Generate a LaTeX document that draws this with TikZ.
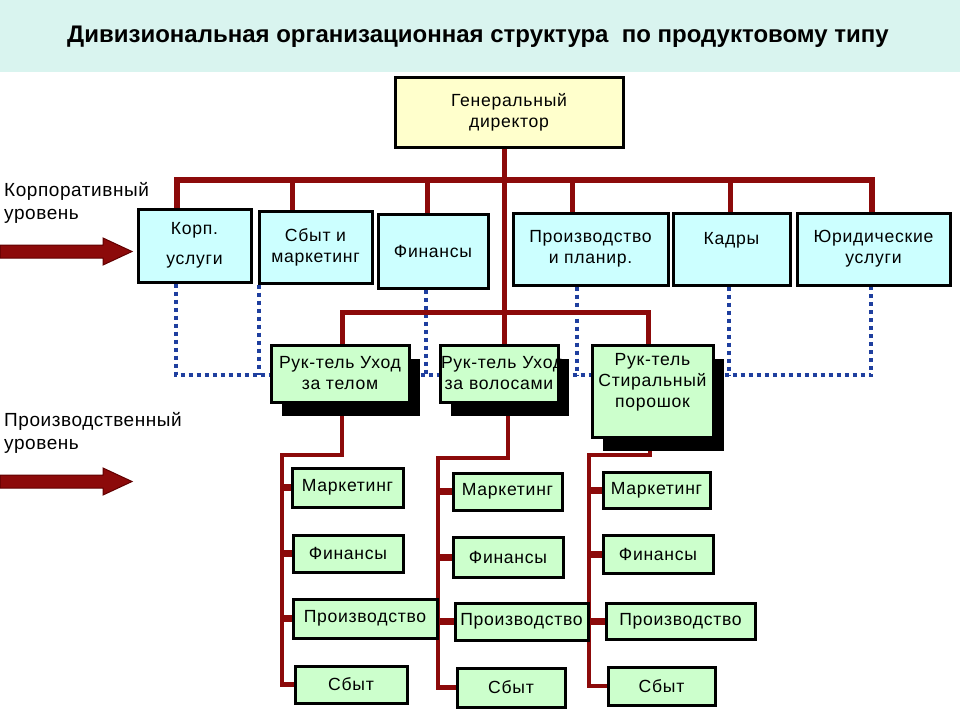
\documentclass[tikz,border=0pt]{standalone}
\usepackage{fontspec}
\setmainfont{Liberation Sans}
\newfontfamily\boxfontfam[LetterSpace=4]{Liberation Sans}
\newfontfamily\lblfontfam[LetterSpace=3]{Liberation Sans}
\newcommand\myboxfont{\boxfontfam\fontsize{17.6}{21}\selectfont}
\newcommand\mylblfont{\lblfontfam\fontsize{19}{23}\selectfont}
\usetikzlibrary{shadows,backgrounds}
\definecolor{bandc}{HTML}{D9F4EF}
\definecolor{cyanfill}{HTML}{CCFFFF}
\definecolor{greenfill}{HTML}{CCFFCC}
\definecolor{yellowfill}{HTML}{FFFFCC}
\definecolor{redl}{HTML}{8C0A0A}
\definecolor{redd}{HTML}{600000}
\definecolor{dblue}{HTML}{1F3F9F}
\begin{document}
\begin{tikzpicture}[x=1pt,y=-1pt,
  box/.style={draw=black,line width=3pt,align=center,inner sep=1pt,font=\myboxfont,line join=miter},
  cbox/.style={box,fill=cyanfill},
  gbox/.style={box,fill=greenfill},
  ybox/.style={box,fill=yellowfill},
  mbox/.style={gbox,drop shadow={shadow xshift=11pt,shadow yshift=-14pt,fill=black,opacity=1}},
  rline/.style={draw=redl,line width=5pt,line join=miter},
  spine/.style={draw=redl,line width=4.5pt,line join=miter},
  stub/.style={draw=redl,line width=7pt},
  dots/.style={draw=dblue,line width=4pt,dash pattern=on 4pt off 4pt},
  lvl/.style={font=\mylblfont,align=left,inner sep=0pt,anchor=north west},
  bigarrow/.style={fill=redl,draw=redd,line width=1pt}]
\useasboundingbox (0,0) rectangle (960,720);
\fill[bandc] (0,0) rectangle (960,72);
\node[font=\bfseries\fontsize{24}{28}\selectfont] (title) at (478,37)
  {Дивизиональная организационная структура\ \ по продуктовому типу};

% top
\node[ybox,minimum width=228pt,minimum height=70pt] (dir) at (509,112) {Генеральный\\директор};

% corporate level
\node[cbox,minimum width=113pt,minimum height=73pt] (korp) at (194.5,245.5) {Корп.\\[9pt]услуги};
\node[cbox,minimum width=113pt,minimum height=72pt] (sbyt) at (315.5,247) {Сбыт и\\маркетинг};
\node[cbox,minimum width=110pt,minimum height=74pt] (fin) at (433,251) {Финансы};
\node[cbox,minimum width=155pt,minimum height=72pt] (proiz) at (590.5,249) {Производство\\и планир.};
\node[cbox,minimum width=117pt,minimum height=72pt] (kadry) at (731.5,249) {Кадры\\~};
\node[cbox,minimum width=153pt,minimum height=72pt] (yur) at (873.5,249) {Юридические\\услуги};

% managers
\node[mbox,minimum width=138pt,minimum height=57pt] (m1) at (340,373.5) {Рук-тель Уход\\за телом};
\node[mbox,text width=116pt,minimum height=57pt] (m2) at (499,373.5) {\mbox{Рук-тель Уход}\\\mbox{за волосами}};
\node[mbox,minimum width=121pt,minimum height=92pt] (m3) at (652.5,391) {Рук-тель\\Стиральный\\порошок\\~};

% column 1
\node[gbox,minimum width=111pt,minimum height=39pt] (a1) at (347.5,487.5) {Маркетинг};
\node[gbox,minimum width=110pt,minimum height=37pt] (a2) at (348,553.5) {Финансы};
\node[gbox,minimum width=144pt,minimum height=39pt] (a3) at (365,618.5) {Производство};
\node[gbox,minimum width=112pt,minimum height=37pt] (a4) at (351,684.5) {Сбыт};
% column 2
\node[gbox,minimum width=109pt,minimum height=37pt] (b1) at (507.5,491.5) {Маркетинг};
\node[gbox,minimum width=110pt,minimum height=40pt] (b2) at (508,557) {Финансы};
\node[gbox,minimum width=133pt,minimum height=37pt] (b3) at (521.5,621.5) {Производство};
\node[gbox,minimum width=108pt,minimum height=39pt] (b4) at (511,687.5) {Сбыт};
% column 3
\node[gbox,minimum width=107pt,minimum height=36pt] (c1) at (656.5,490) {Маркетинг};
\node[gbox,minimum width=110pt,minimum height=38pt] (c2) at (658,554) {Финансы};
\node[gbox,minimum width=149pt,minimum height=36pt] (c3) at (680.5,621) {Производство};
\node[gbox,minimum width=107pt,minimum height=38pt] (c4) at (661.5,686) {Сбыт};

% level labels
\node[lvl] (lvl1) at (4,182) {Корпоративный\\уровень};
\node[lvl] (lvl2) at (4,412) {Производственный\\уровень};
\fill[bigarrow] (0,245) -- (103,245) -- (103,238) -- (132,251.5) -- (103,265) -- (103,258) -- (0,258) -- cycle;
\fill[bigarrow] (0,475) -- (103,475) -- (103,468) -- (132,481.5) -- (103,495) -- (103,488) -- (0,488) -- cycle;

% connectors
\coordinate (k1) at (177,180);
\coordinate (k2) at (292,180);
\coordinate (k3) at (427,180);
\coordinate (k4) at (572,180);
\coordinate (k5) at (730,180);
\coordinate (k6) at (872,180);
\coordinate (dv) at (504,180);
\coordinate (p1) at (342,312);
\coordinate (p3) at (648,312);
\coordinate (j1) at (282,455);
\coordinate (s1) at (342,455);
\coordinate (j2) at (438,458);
\coordinate (s2) at (508,458);
\coordinate (j3) at (589,455);
\coordinate (s3) at (650,455);
\coordinate (d1) at (176,375);
\coordinate (d2) at (259,375);
\coordinate (d3) at (426,375);
\coordinate (d4) at (577,375);
\coordinate (d5) at (729,375);
\coordinate (d6) at (871,375);

\begin{pgfonlayer}{background}
% dotted links
\draw[dots] (d1 |- korp.south) -- (d1) -- (d6) -- (d6 |- yur.south);
\draw[dots] (d2 |- sbyt.south) -- (d2);
\draw[dots] (d3 |- fin.south) -- (d3);
\draw[dots] (d4 |- proiz.south) -- (d4);
\draw[dots] (d5 |- kadry.south) -- (d5);
% red hierarchy
\draw[rline,line width=6pt] (k1 |- korp.north) -- (k1) -- (k6) -- (k6 |- yur.north);
\draw[rline] (k2) -- (k2 |- sbyt.north);
\draw[rline] (k3) -- (k3 |- fin.north);
\draw[rline] (k4) -- (k4 |- proiz.north);
\draw[rline] (k5) -- (k5 |- kadry.north);
\draw[rline] (dv |- dir.south) -- (dv |- m2.north);
\draw[rline] (p1 |- m1.north) -- (p1) -- (p3) -- (p3 |- m3.north);
% columns
\draw[spine] (s1 |- m1.south) -- (s1) -- (j1) -- (j1 |- a4.west) -- (a4.west);
\draw[stub] (j1 |- a1.west) -- (a1.west);
\draw[stub] (j1 |- a2.west) -- (a2.west);
\draw[stub] (j1 |- a3.west) -- (a3.west);
\draw[spine] (s2 |- m2.south) -- (s2) -- (j2) -- (j2 |- b4.west) -- (b4.west);
\draw[stub] (j2 |- b1.west) -- (b1.west);
\draw[stub] (j2 |- b2.west) -- (b2.west);
\draw[stub] (j2 |- b3.west) -- (b3.west);
\draw[spine] (s3 |- m3.south) -- (s3) -- (j3) -- (j3 |- c4.west) -- (c4.west);
\draw[stub] (j3 |- c1.west) -- (c1.west);
\draw[stub] (j3 |- c2.west) -- (c2.west);
\draw[stub] (j3 |- c3.west) -- (c3.west);
\end{pgfonlayer}
\end{tikzpicture}
\end{document}
